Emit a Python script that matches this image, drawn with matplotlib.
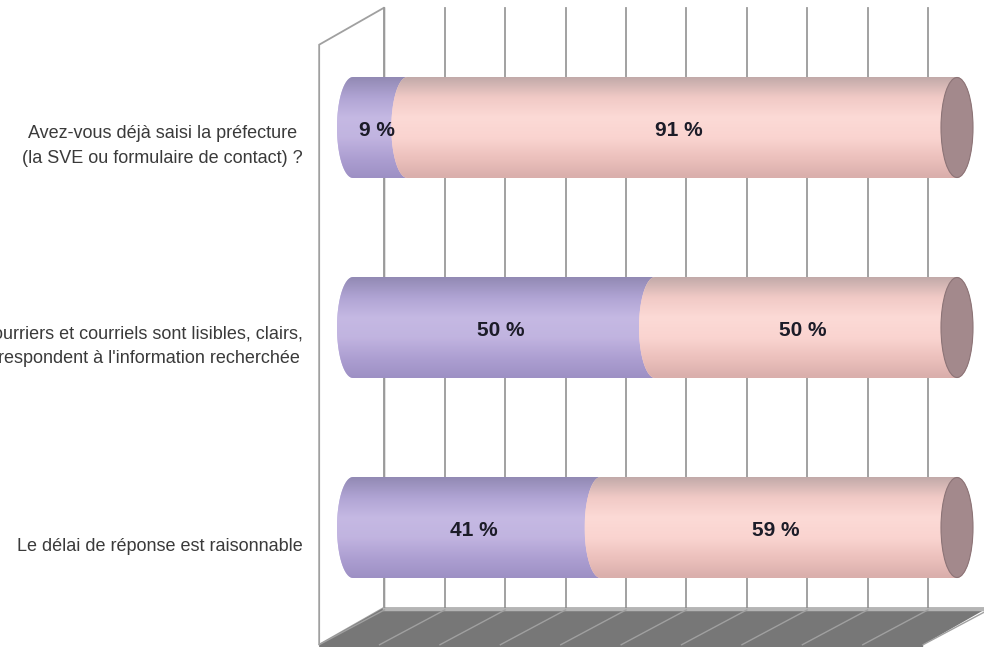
import numpy as np
import matplotlib.pyplot as plt
from matplotlib.path import Path
from matplotlib.patches import PathPatch, Polygon, Ellipse
from matplotlib.colors import to_rgb

# questions (top to bottom) and answer shares in %
questions = [
    "Avez-vous déjà saisi la préfecture\n(la SVE ou formulaire de contact) ?",
    "Les courriers et courriels sont lisibles, clairs,\net correspondent à l'information recherchée",
    "Le délai de réponse est raisonnable",
]
oui = [9, 50, 41]
non = [91, 50, 59]
grid_ticks = list(range(0, 101, 10))

font = ['Liberation Sans Narrow', 'Liberation Sans', 'DejaVu Sans']

# colour stops for the cylinder shading (top edge -> bottom edge)
purple_stops = ['#928ab4', '#b0a4d4', '#c5b9e3', '#c1b4e0', '#ad9fd2', '#9d90c4']
pink_stops = ['#c2aaa9', '#f1cac6', '#fcdad6', '#fad4d0', '#ecc1bd', '#d9aeab']
cap_color = '#a3898c'

# fake 3d geometry (data units)
half_h = 0.2525     # bar half height
cap_a = 2.65        # half width of the elliptic ends
back_dx, back_dy = 5.2, -0.093
front_dx, front_dy = -5.6, 0.093
wall_top, floor_y = -0.60, 2.40
depth_x, depth_y = front_dx - back_dx, front_dy - back_dy

fig = plt.figure(figsize=(9.84, 6.47), dpi=100)
ax = fig.add_axes([0, 0, 1, 1])
ax.set_xlim(-353 / 6.04, (984 - 353) / 6.04)
ax.set_ylim(2.5975, -0.6375)
ax.axis('off')


def gradient(stops, n=120):
    cols = np.array([to_rgb(c) for c in stops])
    t = np.linspace(0, 1, n)
    pos = np.linspace(0, 1, len(stops))
    img = np.stack([np.interp(t, pos, cols[:, k]) for k in range(3)], axis=-1)
    return img[:, None, :]


def seg_path(x0, x1, yc):
    th = np.linspace(np.pi / 2, 3 * np.pi / 2, 40)
    left = np.column_stack([x0 + cap_a * np.cos(th), yc - half_h * np.sin(th)])
    th = np.linspace(-np.pi / 2, np.pi / 2, 40)
    right = np.column_stack([x1 + cap_a * np.cos(th), yc - half_h * np.sin(th)])
    verts = np.vstack([left, right, left[:1]])
    return Path(verts, closed=True)


def draw_segment(x0, x1, yc, stops, z):
    patch = PathPatch(seg_path(x0, x1, yc), facecolor=stops[2], edgecolor='none', zorder=z)
    ax.add_patch(patch)
    im = ax.imshow(gradient(stops), extent=(x0 - cap_a, x1 + cap_a, yc + half_h, yc - half_h),
                   aspect='auto', interpolation='bilinear', zorder=z)
    im.set_clip_path(patch)


# left wall
ax.add_patch(Polygon([(back_dx, wall_top), (back_dx + depth_x, wall_top + depth_y),
                      (back_dx + depth_x, floor_y + depth_y), (back_dx, floor_y)],
                     closed=True, facecolor='white', edgecolor='#a0a0a0', lw=1.3, zorder=1))

# back wall grid
for g in grid_ticks:
    ax.plot([g + back_dx, g + back_dx], [wall_top, floor_y], color='#9a9a9a', lw=1.3, zorder=2)

# floor
fl_front = floor_y + depth_y
ax.add_patch(Polygon([(back_dx, floor_y), (100 + back_dx, floor_y),
                      (100 + back_dx + depth_x, fl_front), (100 + back_dx + depth_x, fl_front + 0.05),
                      (back_dx + depth_x, fl_front + 0.05), (back_dx + depth_x, fl_front)],
                     closed=True, facecolor='#777777', edgecolor='none', zorder=2))
ax.plot([back_dx, 100 + back_dx], [floor_y + 0.006, floor_y + 0.006], color='#b4b4b4', lw=2.5, zorder=3)
for g in grid_ticks:
    ax.plot([g + back_dx, g + back_dx + depth_x], [floor_y + 0.012, fl_front], color='#a0a0a0', lw=1.0, zorder=3)

# cylinders
for i, (q, a, b) in enumerate(zip(questions, oui, non)):
    draw_segment(0, a, i, purple_stops, 5)
    draw_segment(a, a + b, i, pink_stops, 6)
    ax.add_patch(Ellipse((a + b, i), 2 * cap_a, 2 * half_h * 0.99, facecolor=cap_color,
                         edgecolor='#8c7477', lw=0.8, zorder=7))
    ax.text(a / 2 - 0.5, i + 0.015, f"{a} %", ha='center', va='center', fontsize=15,
            fontweight='bold', color='#1c1c28', family=font, zorder=8)
    ax.text(a + b / 2 - 0.5, i + 0.015, f"{b} %", ha='center', va='center', fontsize=15,
            fontweight='bold', color='#1c1c28', family=font, zorder=8)
    ax.text(-8.3, i + front_dy, q, ha='right', va='center', multialignment='center',
            fontsize=13, color='#3a3a3a', family=font, linespacing=1.6, zorder=8)

fig.savefig('out.png', dpi=100)
